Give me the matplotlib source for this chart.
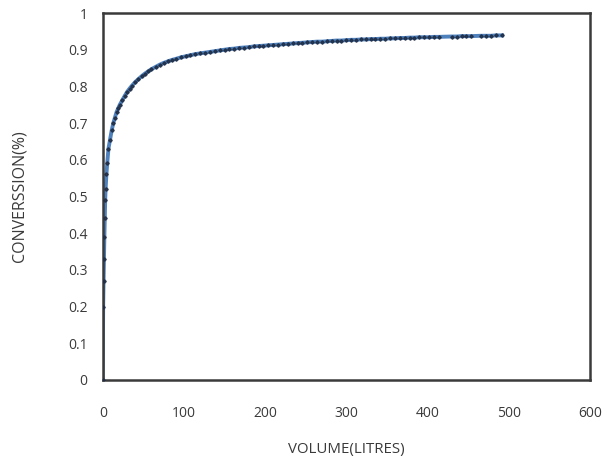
import matplotlib
matplotlib.use("Agg")
import matplotlib.pyplot as plt

volume = [0, 0.5, 1, 1.5, 2, 2.5, 3, 3.5, 4.5, 5.5, 7, 9, 11, 13, 15, 17, 19, 21, 24, 27,
          30, 33, 36, 40, 44, 48, 52, 56, 60, 65, 70, 75, 80, 85, 90, 96, 102, 108, 114, 120,
          126, 132, 138, 144, 150, 156, 162, 168, 174, 180, 186, 192, 198, 204, 210, 216, 222,
          228, 234, 240, 246, 252, 258, 264, 270, 276, 282, 288, 294, 300, 306, 312, 318, 324,
          330, 336, 342, 348, 354, 360, 366, 372, 378, 384, 390, 396, 402, 408, 414, 430, 436,
          442, 448, 454, 466, 472, 478, 484, 492]
conversion = [0, 0.20, 0.27, 0.33, 0.39, 0.44, 0.49, 0.52, 0.56, 0.59, 0.63, 0.655, 0.68, 0.70,
              0.715, 0.73, 0.74, 0.75, 0.762, 0.774, 0.785, 0.794, 0.802, 0.812, 0.820, 0.828,
              0.835, 0.841, 0.847, 0.853, 0.859, 0.864, 0.868, 0.872, 0.875, 0.879, 0.882,
              0.885, 0.888, 0.890, 0.892, 0.894, 0.896, 0.898, 0.900, 0.902, 0.903, 0.905,
              0.906, 0.907, 0.909, 0.910, 0.911, 0.912, 0.913, 0.914, 0.915, 0.916, 0.917,
              0.918, 0.919, 0.920, 0.921, 0.922, 0.922, 0.923, 0.924, 0.925, 0.925, 0.926,
              0.927, 0.927, 0.928, 0.928, 0.929, 0.929, 0.930, 0.930, 0.931, 0.931, 0.932,
              0.932, 0.933, 0.933, 0.934, 0.934, 0.934, 0.935, 0.935, 0.936, 0.936, 0.937,
              0.937, 0.937, 0.938, 0.938, 0.938, 0.939, 0.939]

x_ticks = [0, 100, 200, 300, 400, 500, 600]
y_ticks = [0, 0.1, 0.2, 0.3, 0.4, 0.5, 0.6, 0.7, 0.8, 0.9, 1]
y_tick_labels = ["0", "0.1", "0.2", "0.3", "0.4", "0.5", "0.6", "0.7", "0.8", "0.9", "1"]

plt.rcParams['font.family'] = ['Open Sans', 'DejaVu Sans']

fig = plt.figure(figsize=(6.08, 4.65), dpi=100)
ax = fig.add_axes([0.169, 0.183, 0.801, 0.789])
ax.plot(volume, conversion, color="#4F81BD", linewidth=2.8, zorder=2)
ax.plot(volume, conversion, linestyle="none", marker="D", markersize=1.8,
        color="#1f2d45", alpha=0.85, zorder=3)

ax.set_xlim(0, 600)
ax.set_ylim(0, 1)
ax.set_xticks(x_ticks)
ax.set_yticks(y_ticks)
ax.set_yticklabels(y_tick_labels)
ax.tick_params(axis="both", length=0, labelsize=10, colors="#3a3a3a")
ax.tick_params(axis="x", pad=19)
ax.tick_params(axis="y", pad=11)
for s in ax.spines.values():
    s.set_color("#3a3a3a")
    s.set_linewidth(1.8)

ax.set_xlabel("VOLUME(LITRES)", fontsize=10.8, color="#3a3a3a")
ax.set_ylabel("CONVERSSION(%)", fontsize=11.5, color="#3a3a3a")
ax.xaxis.set_label_coords(0.5, -0.17)
ax.yaxis.set_label_coords(-0.155, 0.5)

fig.savefig("out.png", dpi=100)
